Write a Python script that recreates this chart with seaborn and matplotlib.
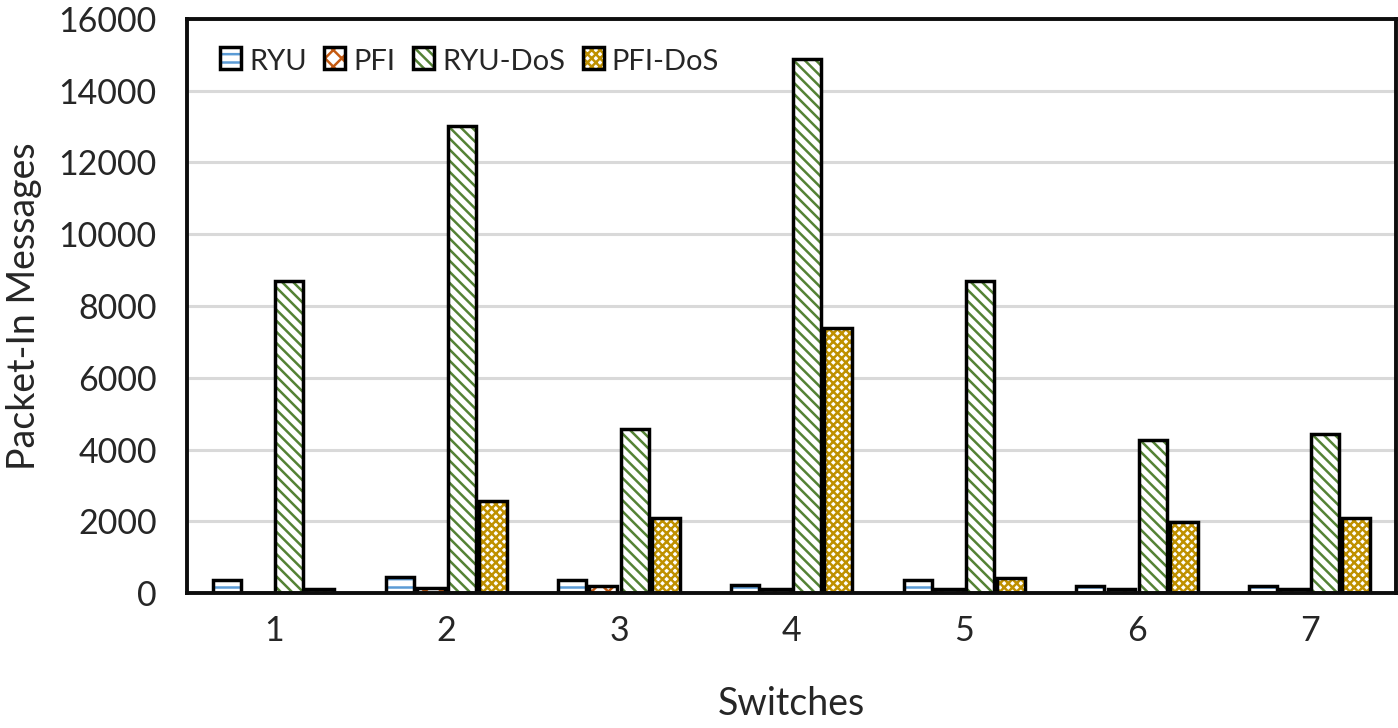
import matplotlib
matplotlib.use("Agg")
import matplotlib.pyplot as plt
import matplotlib.patches as mpatches
import seaborn as sns
import pandas as pd

switches = ["1", "2", "3", "4", "5", "6", "7"]
series = ["RYU", "PFI", "RYU-DoS", "PFI-DoS"]
ryu = [350, 450, 360, 220, 360, 200, 200]
pfi = [0, 140, 200, 110, 110, 110, 110]
ryu_dos = [8700, 13020, 4580, 14870, 8700, 4270, 4440]
pfi_dos = [110, 2570, 2100, 7400, 420, 1980, 2100]
yticks = [0, 2000, 4000, 6000, 8000, 10000, 12000, 14000, 16000]

hatch_colors = {"RYU": "#5B9BD5", "PFI": "#C55A11", "RYU-DoS": "#548235", "PFI-DoS": "#BF9000"}
hatches = {"RYU": "--", "PFI": "xx", "RYU-DoS": "\\\\\\", "PFI-DoS": "xxxx"}

rows = []
for s, vals in zip(series, [ryu, pfi, ryu_dos, pfi_dos]):
    for sw, v in zip(switches, vals):
        rows.append({"Switch": sw, "Series": s, "Value": v})
df = pd.DataFrame(rows)

sns.set_theme(style="white")
plt.rcParams["font.family"] = ["Lato", "DejaVu Sans"]
plt.rcParams["hatch.linewidth"] = 1.8

fig = plt.figure(figsize=(13.98, 7.28), dpi=100)
ax = fig.add_axes([0.134, 0.1854, 0.8646, 0.7886])

sns.barplot(data=df, x="Switch", y="Value", hue="Series", order=switches,
            hue_order=series, palette=["white"] * 4, width=0.72, gap=0.1,
            ax=ax, legend=False, linewidth=0, zorder=3)

n = len(switches)
bar_patches = list(ax.patches)
for i, s in enumerate(series):
    for p in bar_patches[i * n:(i + 1) * n]:
        # hatch layer: edge colour drives hatch colour, no outline
        p.set_hatch(hatches[s])
        p.set_facecolor("white")
        p.set_edgecolor(hatch_colors[s])
        p.set_linewidth(0)
        # black outline on top, taken from the bar's own geometry
        outline = mpatches.Rectangle(p.get_xy(), p.get_width(), p.get_height(),
                                     facecolor="none", edgecolor="black",
                                     linewidth=2.5, zorder=4)
        ax.add_patch(outline)

ax.set_ylim(0, 16000)
ax.set_yticks(yticks)
ax.set_yticklabels([str(t) for t in yticks], fontsize=24.5)
ax.tick_params(axis="x", labelsize=24.5, length=0, pad=16)
ax.tick_params(axis="y", length=0, pad=22)
ax.yaxis.grid(True, color="#D9D9D9", linewidth=2.2, zorder=0)
ax.set_axisbelow(True)
for sp in ax.spines.values():
    sp.set_visible(True)
    sp.set_color("#0d0d0d")
    sp.set_linewidth(2.8)
    sp.set_zorder(5)

ax.set_xlabel("Switches", fontsize=27, labelpad=28)
ax.set_ylabel("Packet-In Messages", fontsize=27, labelpad=12)


class HatchHandler:
    def __init__(self, hatch, color):
        self.hatch = hatch
        self.color = color

    def legend_artist(self, legend, orig_handle, fontsize, handlebox):
        x0, y0 = handlebox.xdescent, handlebox.ydescent
        w, h = handlebox.width, handlebox.height
        back = mpatches.Rectangle((x0, y0), w, h, facecolor="white", edgecolor=self.color,
                                  hatch=self.hatch, linewidth=0, transform=handlebox.get_transform())
        front = mpatches.Rectangle((x0, y0), w, h, facecolor="none", edgecolor="black",
                                   linewidth=2.5, transform=handlebox.get_transform())
        handlebox.add_artist(back)
        handlebox.add_artist(front)
        return front


handles = [mpatches.Patch(label=s) for s in series]
handler_map = {h: HatchHandler(hatches[s], hatch_colors[s]) for h, s in zip(handles, series)}
leg = ax.legend(handles, series, loc="upper left", ncol=4, frameon=False, fontsize=21,
                handlelength=0.72, handleheight=0.78, handletextpad=0.28, columnspacing=0.6,
                bbox_to_anchor=(0.027, 0.948), borderaxespad=0, borderpad=0,
                handler_map=handler_map)

fig.savefig("out.png", dpi=100)
